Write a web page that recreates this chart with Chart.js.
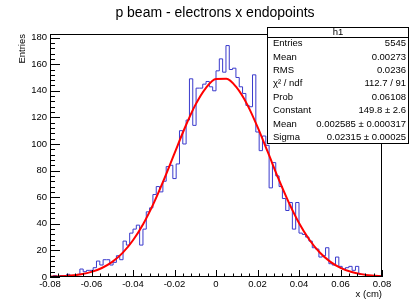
<!DOCTYPE html>
<html><head><meta charset="utf-8">
<script src="https://cdn.jsdelivr.net/npm/chart.js@4"></script>
<style>html,body{margin:0;padding:0;background:#fff;}#wrap{width:411px;height:299px;position:relative;}</style>
</head><body><div id="wrap"><canvas id="c" width="411" height="299"></canvas></div>
<script>
const chartTitle = 'p beam - electrons x endopoints';
const xAxisTitle = 'x (cm)';
const yAxisTitle = 'Entries';
const xMin = -0.08, xMax = 0.08, nBins = 100;
const yMax = 182.7;
const counts = [
  0,1,0,1,1,2,1,1,2,6,
  4,5,5,7,12,9,13,13,9,11,
  16,13,27,24,33,36,39,24,36,49,
  52,62,68,64,72,83,84,74,85,110,
  100,118,149,114,142,142,145,147,143,140,
  155,164,154,174,156,157,150,143,138,129,
  128,152,109,95,106,99,67,86,76,68,
  59,50,56,36,56,33,32,30,27,22,
  21,15,16,22,10,9,15,8,6,7,
  8,5,8,2,2,1,1,0,1,1
];
const fitX = [-0.08,-0.075,-0.07,-0.065,-0.06,-0.055,-0.05,-0.045,-0.04,-0.035,-0.03,-0.025,-0.02,-0.015,-0.01,-0.005,0,0.005,0.01,0.015,0.02,0.025,0.03,0.035,0.04,0.045,0.05,0.055,0.06,0.065,0.07,0.075,0.08];
const fitY = [0.26,0.54,1.10,2.11,3.87,6.78,11.34,18.1,27.6,40.1,55.6,73.6,93.0,112.2,129.2,141.9,148.9,149.0,142.3,129.8,112.9,93.8,74.3,56.3,40.6,28.0,18.4,11.6,6.93,3.96,2.16,1.13,0.56];
const xTicks = [-0.08,-0.06,-0.04,-0.02,0,0.02,0.04,0.06,0.08];
const xTickLabels = ['-0.08','-0.06','-0.04','-0.02','0','0.02','0.04','0.06','0.08'];
const yTicks = [0,20,40,60,80,100,120,140,160,180];
const yTickLabels = ['0','20','40','60','80','100','120','140','160','180'];
const statsTitle = 'h1';
const statsNames = ['Entries','Mean','RMS','\u03C7\u00B2 / ndf','Prob','Constant','Mean','Sigma'];
const statsValues = ['5545','0.00273','0.0236','112.7 / 91','0.06108','149.8 \u00B1 2.6','0.002585 \u00B1 0.000317','0.02315 \u00B1 0.00025'];

const FONT = '"Liberation Sans", Arial, Helvetica, sans-serif';
const binW = (xMax - xMin) / nBins;
const histPts = [{x: xMin, y: 0}];
counts.forEach((c, i) => histPts.push({x: xMin + i * binW, y: c}));
histPts.push({x: xMax, y: counts[nBins - 1]});
histPts.push({x: xMax, y: 0});
const fitPts = fitX.map((x, i) => ({x: x, y: fitY[i]}));

const rootPlugin = {
  id: 'rootStyle',
  afterDatasetsDraw(chart) {
    const ctx = chart.ctx, a = chart.chartArea;
    const xs = chart.scales.x, ys = chart.scales.y;
    ctx.save();
    ctx.strokeStyle = '#000'; ctx.lineWidth = 1;
    ctx.beginPath();
    // x ticks (inside, upward)
    for (let k = 0; k <= 40; k++) {
      const v = xMin + k * (xMax - xMin) / 40;
      const px = Math.round(xs.getPixelForValue(v)) + 0.5;
      const len = (k % 5 === 0) ? 7 : 3.5;
      ctx.moveTo(px, a.bottom); ctx.lineTo(px, a.bottom - len);
    }
    // y ticks (inside, rightward)
    for (let v = 0; v <= yMax; v += 4) {
      const py = Math.round(ys.getPixelForValue(v)) + 0.5;
      const len = (v % 20 === 0) ? 10 : 5;
      ctx.moveTo(a.left, py); ctx.lineTo(a.left + len, py);
    }
    ctx.stroke();
    ctx.strokeRect(Math.round(a.left) + 0.5, Math.round(a.top) + 0.5, Math.round(a.right - a.left) - 1, Math.round(a.bottom - a.top) - 1);
    ctx.restore();
  },
  afterDraw(chart) {
    const ctx = chart.ctx, a = chart.chartArea;
    ctx.save();
    ctx.fillStyle = '#000';
    ctx.font = '14px ' + FONT;
    ctx.textAlign = 'center'; ctx.textBaseline = 'alphabetic';
    ctx.fillText(chartTitle, 215, 17);
    ctx.font = '9.5px ' + FONT;
    ctx.textAlign = 'right'; ctx.textBaseline = 'middle';
    ctx.fillText(xAxisTitle, a.right, 294);
    ctx.save();
    ctx.translate(22, a.top);
    ctx.rotate(-Math.PI / 2);
    ctx.textAlign = 'right'; ctx.textBaseline = 'middle';
    ctx.fillText(yAxisTitle, 0, 0);
    ctx.restore();
    // stats box
    const bx = 267, by = 27, bw = 142, bh = 117;
    ctx.fillStyle = '#fff';
    ctx.fillRect(bx, by, bw, bh);
    ctx.strokeStyle = '#000'; ctx.lineWidth = 1;
    ctx.strokeRect(bx + 0.5, by + 0.5, bw - 1, bh - 1);
    ctx.beginPath(); ctx.moveTo(bx, by + 10.5); ctx.lineTo(bx + bw, by + 10.5); ctx.stroke();
    ctx.fillStyle = '#000';
    ctx.font = '9.5px ' + FONT;
    ctx.textAlign = 'center'; ctx.textBaseline = 'middle';
    ctx.fillText(statsTitle, bx + bw / 2, by + 5.5);
    const rowH = (bh - 10) / statsNames.length;
    statsNames.forEach((n, i) => {
      const cy = by + 10 + rowH * (i + 0.5);
      ctx.textAlign = 'left';
      ctx.fillText(n, bx + 6, cy);
      ctx.textAlign = 'right';
      ctx.fillText(statsValues[i], bx + bw - 3, cy);
    });
    ctx.restore();
  }
};

new Chart(document.getElementById('c'), {
  type: 'line',
  data: {
    datasets: [
      {label: 'fit', data: fitPts, borderColor: '#ff0000', borderWidth: 2, pointRadius: 0, cubicInterpolationMode: 'monotone', fill: false, order: 0},
      {label: 'h1', data: histPts, borderColor: '#3a3acc', borderWidth: 1, pointRadius: 0, stepped: true, fill: false, order: 1}
    ]
  },
  options: {
    responsive: false, animation: false, devicePixelRatio: 1,
    layout: {padding: {top: 34, right: 29, left: 0, bottom: 0}},
    plugins: {legend: {display: false}, tooltip: {enabled: false}, title: {display: false}},
    scales: {
      x: {
        type: 'linear', min: xMin, max: xMax,
        afterBuildTicks: s => { s.ticks = xTicks.map(v => ({value: v})); },
        afterFit: s => { s.height = 22; },
        grid: {display: false, drawTicks: false}, border: {display: false},
        ticks: {callback: (v, i) => xTickLabels[i], font: {family: FONT, size: 9.5}, color: '#000', padding: 2, maxRotation: 0, autoSkip: false}
      },
      y: {
        type: 'linear', min: 0, max: yMax,
        afterBuildTicks: s => { s.ticks = yTicks.map(v => ({value: v})); },
        afterFit: s => { s.width = 50; },
        grid: {display: false, drawTicks: false}, border: {display: false},
        ticks: {callback: (v, i) => yTickLabels[i], font: {family: FONT, size: 9.5}, color: '#000', padding: 3, autoSkip: false}
      }
    }
  },
  plugins: [rootPlugin]
});
</script></body></html>
